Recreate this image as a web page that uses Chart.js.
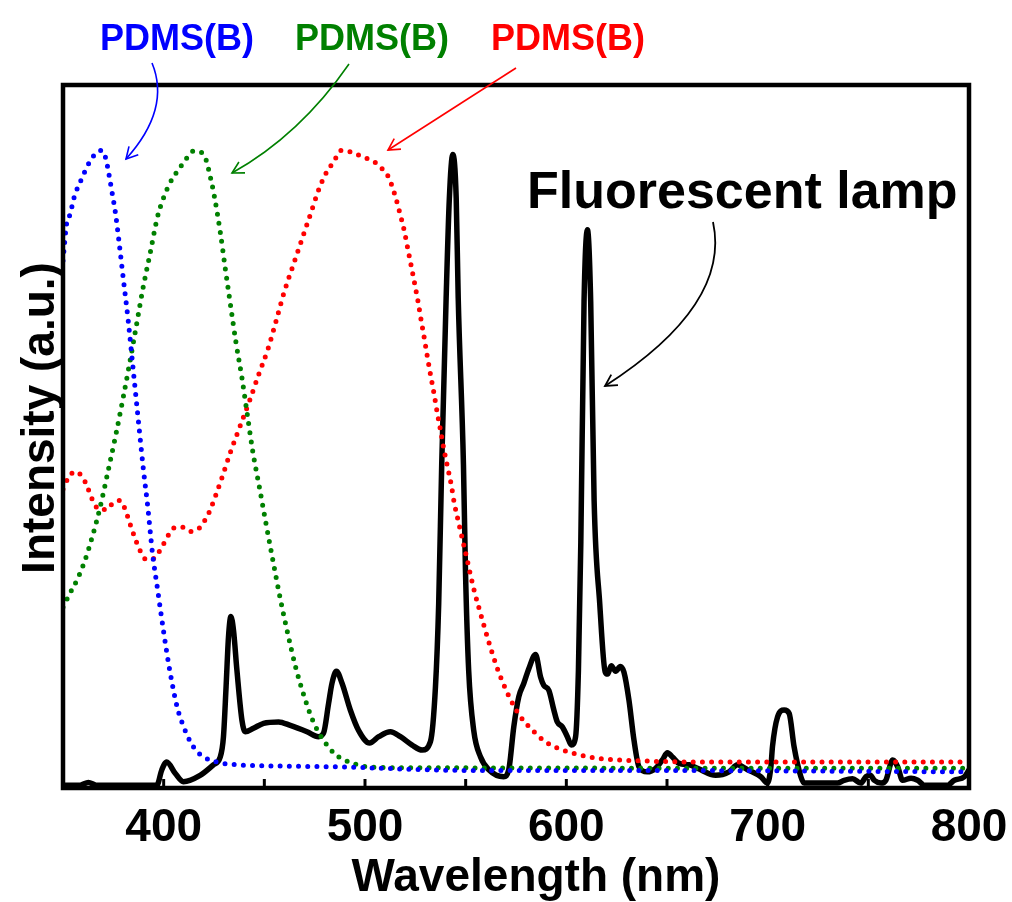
<!DOCTYPE html>
<html>
<head>
<meta charset="utf-8">
<script src="https://cdn.jsdelivr.net/npm/chart.js@4.4.1/dist/chart.umd.min.js"></script>
<style>
  html, body { margin: 0; padding: 0; background: #fff; }
</style>
</head>
<body>
<canvas id="spectra" width="1012" height="902"></canvas>
<script>
// wavelength (nm) and intensity (a.u., 0-100 = frame height)
const blueNm = [350, 351.8, 353.5, 355.6, 359, 363.1, 365.8, 369.2, 371.2, 373, 374.5, 376, 377.7, 379.8, 382.5, 384.8,
  387.1, 389.9, 392.1, 394.4, 396.9, 400.2, 403.1, 406.7, 409.8, 413.6, 416.6, 420, 423.9, 432.2, 464.4, 486.7, 551.4, 627, 800];
const blueVal = [75, 80.3, 81.6, 84.1, 86.5, 89.0, 90.1, 90.7, 89.6, 87.0, 84.5, 81.9, 78.0, 72.8, 66.2, 59.7,
  53.2, 45.4, 40.0, 33.5, 28.4, 21.8, 16.6, 11.5, 8.8, 6.4, 5.2, 4.4, 3.9, 3.4, 3.1, 3.0, 2.5, 2.5, 2.3];

const greenNm = [350, 353.1, 357.3, 360.8, 364.9, 368.4, 372.4, 376.2, 379.8, 383.2, 386.4, 389.6, 393.3, 396.9, 399.6,
  403.2, 408.2, 411.2, 414.8, 418.8, 421, 423.2, 425.1, 428.1, 430.6, 433.2, 435.9, 438.9, 441.6, 444.3, 447.6, 450.9,
  454.3, 457.8, 461.7, 465.9, 471.2, 474.5, 478.9, 485.2, 493.1, 501.5, 511, 800];
const greenVal = [25.7, 27.5, 29.8, 32.3, 36.1, 39.9, 45.1, 50.2, 55.4, 60.6, 65.7, 70.9, 76.1, 81.2, 83.7,
  86.1, 88.3, 89.5, 90.6, 90.4, 89.4, 86.9, 84.3, 79.1, 73.9, 68.7, 63.4, 58.3, 53.0, 47.8, 42.7, 37.5,
  32.3, 27.1, 21.9, 16.8, 11.8, 9.3, 7.0, 4.8, 3.6, 3.0, 2.9, 2.8];

const redNm = [350, 352.6, 356, 359.6, 361.7, 365.1, 368.1, 371.7, 374.7, 378.2, 380.5, 383.5, 386.6, 388.4, 391.4, 395.4,
  397.7, 400.1, 402.2, 405.2, 409.2, 413.2, 417.8, 420.3, 422.4, 425.7, 428.9, 433.2, 438, 442.8, 447.3, 452.1, 455.9,
  459.7, 464, 468.5, 473, 477.4, 481.3, 484.3, 488.1, 492.7, 497, 501.3, 505.5, 508.8, 511.5, 514.7, 517.2, 519.4,
  521.2, 523, 524.7, 526.4, 527.9, 529.5, 531, 532.6, 534.3, 535.8, 537.5, 539.1, 540.9, 542.8, 544.3, 546.3, 548.3,
  550.4, 552.4, 554.5, 557, 559.5, 562.2, 565, 568.3, 572.1, 576.6, 582.9, 590, 598.1, 606.7, 616, 625.3, 666.7, 800];
const redVal = [42.5, 44.1, 45.0, 44.3, 43.1, 40.7, 39.6, 39.6, 40.5, 40.9, 39.9, 37.4, 34.9, 33.7, 32.5, 32.7,
  33.6, 34.8, 35.9, 37.0, 37.1, 36.5, 37.0, 38.0, 39.1, 41.5, 44.1, 47.8, 51.5, 55.2, 58.9, 62.7, 66.5,
  70.4, 74.1, 77.9, 81.7, 85.4, 87.8, 89.0, 90.7, 90.5, 90.0, 89.5, 88.9, 88.0, 87.0, 84.5, 81.9, 79.4,
  76.8, 74.2, 71.7, 69.1, 66.5, 63.9, 61.3, 58.7, 56.1, 53.5, 50.9, 48.3, 45.8, 43.2, 40.6, 38.0, 35.5,
  32.9, 30.3, 27.8, 25.2, 22.7, 20.1, 17.6, 15.1, 12.7, 10.4, 8.3, 6.5, 5.4, 4.7, 4.2, 4.0, 3.7, 3.7];

const lampNm = [350, 358.5, 362.6, 366.5, 396.6, 399.1, 401.5, 405.7, 409.8, 418.1, 424.7, 428.1, 429.7, 431, 432.2,
  433.4, 434.7, 436.4, 438.9, 440.5, 444.6, 449.6, 457.1, 462.9, 471.2, 476.9, 479.4, 481.9, 483.6, 485.8, 488.6,
  492.7, 496.8, 502.3, 506.8, 512.6, 517.6, 523.4, 528.4, 532.5, 535, 536.6, 538.1, 540.3, 541.9, 543.6, 545.3,
  546.3, 548.9, 549.9, 551.5, 554, 557.4, 561.5, 568.9, 571.4, 573.9, 576.4, 578.9, 581.4, 584.7, 587.2, 588.8,
  591.3, 593.8, 595.5, 598, 600.5, 602.5, 604.6, 606, 607.2, 608.8, 610.5, 612.1, 613.8, 616.6, 619.3, 620.5,
  622.3, 624.5, 626.8, 628.6, 631.1, 633.6, 636.1, 640.2, 644.4, 647.7, 650.2, 652.7, 656, 661, 665.1, 674.2,
  680.8, 685, 690, 696.6, 699.9, 701.6, 702.4, 704.9, 708.2, 710.7, 713.1, 716.5, 718.1, 734.7, 738, 742.2,
  746.3, 748.8, 751, 752.9, 756.3, 758.7, 762.1, 764.6, 767, 771.2, 774.5, 777.8, 789.4, 792.7, 797.7, 800];
const lampVal = [0.4, 0.4, 0.8, 0.4, 0.4, 2.6, 3.7, 2.1, 0.9, 1.8, 3.3, 4.4, 7.3, 14.4, 21.5,
  24.4, 22.4, 16.7, 9.6, 8.0, 8.5, 9.2, 9.4, 8.9, 8.0, 7.3, 7.8, 12.0, 14.9, 16.6, 14.9,
  11.1, 8.2, 6.4, 7.3, 8.0, 7.3, 6.1, 5.4, 6.6, 14.4, 26.2, 46, 69.7, 83.9, 90.1, 83.9,
  69.7, 46, 30.9, 16.7, 8.2, 4.4, 2.6, 1.6, 2.6, 8.7, 13.0, 14.9, 17.0, 19.0, 15.8, 14.6,
  13.9, 11.1, 9.4, 8.7, 7.3, 6.1, 7.3, 16.7, 35, 69.2, 79.4, 69.2, 40.9, 26.2, 16.5, 16.2,
  17.4, 16.6, 17.3, 16.5, 12.5, 6.8, 3.0, 2.3, 2.8, 4.0, 5.0, 4.4, 3.5, 3.3, 2.8, 1.8,
  2.3, 3.3, 2.6, 1.6, 0.7, 3.0, 5.9, 10.1, 11.1, 10.6, 5.9, 1.6, 0.7, 0.7, 1.1, 1.3,
  0.7, 1.6, 1.8, 1.1, 0.7, 1.1, 4.0, 3.0, 1.1, 1.4, 1.1, 0.4, 0.4, 1.1, 1.6, 2.6];

const xTickLabels = [400, 500, 600, 700, 800];
const seriesLabels = ['PDMS(B)', 'PDMS(B)', 'PDMS(B)'];
const lampLabel = 'Fluorescent lamp';

const FONT = '"Liberation Sans", Arial, sans-serif';

function toPoints(xs, ys) {
  return xs.map((x, i) => ({ x: x, y: ys[i] }));
}

function dotted(label, xs, ys, color) {
  return {
    label: label,
    data: toPoints(xs, ys),
    borderColor: color,
    borderWidth: 5,
    borderDash: [0, 9.2],
    borderCapStyle: 'round',
    pointRadius: 0,
    cubicInterpolationMode: 'monotone',
    fill: false
  };
}

// curved arrow with an open head
function arrow(ctx, p0, c, p2, color, width) {
  ctx.save();
  ctx.strokeStyle = color;
  ctx.lineWidth = width;
  ctx.beginPath();
  ctx.moveTo(p0[0], p0[1]);
  ctx.quadraticCurveTo(c[0], c[1], p2[0], p2[1]);
  ctx.stroke();
  const ang = Math.atan2(p2[1] - c[1], p2[0] - c[0]);
  const len = 13;
  ctx.beginPath();
  ctx.moveTo(p2[0] - len * Math.cos(ang - 0.5), p2[1] - len * Math.sin(ang - 0.5));
  ctx.lineTo(p2[0], p2[1]);
  ctx.lineTo(p2[0] - len * Math.cos(ang + 0.5), p2[1] - len * Math.sin(ang + 0.5));
  ctx.stroke();
  ctx.restore();
}

const decorations = {
  id: 'decorations',
  afterDraw(chart) {
    const ctx = chart.ctx;
    const area = chart.chartArea;
    const xs = chart.scales.x;

    ctx.save();
    // frame
    ctx.strokeStyle = '#000';
    ctx.lineWidth = 4.5;
    ctx.lineJoin = 'miter';
    ctx.strokeRect(area.left, area.top, area.right - area.left, area.bottom - area.top);

    // inward tick marks on the bottom axis
    ctx.lineWidth = 3;
    xs.ticks.forEach(t => {
      if (t.value <= xs.min || t.value >= xs.max) return;
      const px = xs.getPixelForValue(t.value);
      ctx.beginPath();
      ctx.moveTo(px, area.bottom);
      ctx.lineTo(px, area.bottom - 9);
      ctx.stroke();
    });

    // axis titles
    ctx.fillStyle = '#000';
    ctx.font = 'bold 46px ' + FONT;
    ctx.textAlign = 'center';
    ctx.textBaseline = 'alphabetic';
    ctx.fillText('Wavelength (nm)', 536, 891);
    ctx.save();
    ctx.translate(54, 418);
    ctx.rotate(-Math.PI / 2);
    ctx.fillText('Intensity (a.u.)', 0, 0);
    ctx.restore();

    // series labels
    ctx.font = 'bold 36px ' + FONT;
    ctx.fillStyle = '#0000ff';
    ctx.fillText(seriesLabels[0], 177, 50);
    ctx.fillStyle = '#008000';
    ctx.fillText(seriesLabels[1], 372, 50);
    ctx.fillStyle = '#ff0000';
    ctx.fillText(seriesLabels[2], 568, 50);

    ctx.fillStyle = '#000';
    ctx.font = 'bold 52px ' + FONT;
    ctx.textAlign = 'left';
    ctx.fillText(lampLabel, 527, 208);

    arrow(ctx, [152, 63], [171, 109], [126, 159], '#0000ff', 1.6);
    arrow(ctx, [349, 64], [300, 135], [232, 173], '#008000', 1.6);
    arrow(ctx, [516, 68], [452, 109], [388, 150], '#ff0000', 1.6);
    arrow(ctx, [713, 222], [731, 305], [605, 386], '#000', 1.8);
    ctx.restore();
  }
};

new Chart(document.getElementById('spectra'), {
  type: 'line',
  data: {
    datasets: [
      dotted('PDMS(B) blue', blueNm, blueVal, '#0000ff'),
      dotted('PDMS(B) green', greenNm, greenVal, '#008000'),
      dotted('PDMS(B) red', redNm, redVal, '#ff0000'),
      {
        label: lampLabel,
        data: toPoints(lampNm, lampVal),
        borderColor: '#000',
        borderWidth: 5.5,
        pointRadius: 0,
        cubicInterpolationMode: 'monotone',
        fill: false
      }
    ]
  },
  options: {
    responsive: false,
    animation: false,
    layout: { padding: { top: 85, right: 43, left: 0, bottom: 0 } },
    plugins: { legend: { display: false }, tooltip: { enabled: false } },
    scales: {
      x: {
        type: 'linear',
        min: 350,
        max: 800,
        border: { display: false },
        grid: { display: false },
        ticks: {
          stepSize: 50,
          autoSkip: false,
          maxRotation: 0,
          padding: 5,
          color: '#000',
          font: { family: FONT, weight: 'bold', size: 46 },
          callback: v => xTickLabels.includes(v) ? String(v) : ''
        },
        afterFit: s => { s.height = 114; s.paddingLeft = 0; s.paddingRight = 0; }
      },
      y: {
        min: 0,
        max: 100,
        border: { display: false },
        grid: { display: false },
        ticks: { display: false },
        afterFit: s => { s.width = 63; }
      }
    }
  },
  plugins: [decorations]
});
</script>
</body>
</html>
